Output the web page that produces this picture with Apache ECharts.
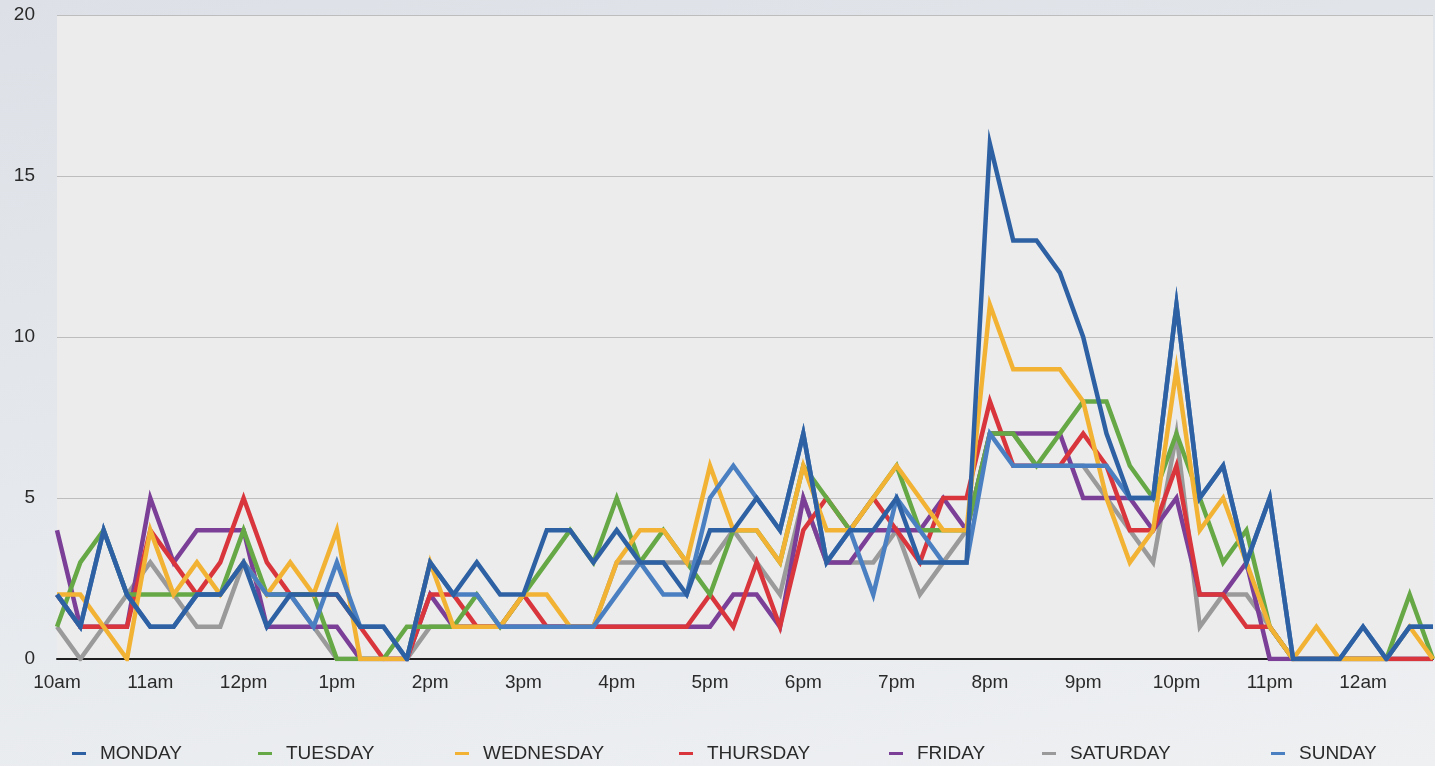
<!DOCTYPE html>
<html>
<head>
<meta charset="utf-8">
<script src="https://cdn.jsdelivr.net/npm/echarts@6/dist/echarts.min.js"></script>
<style>
  html, body { margin: 0; padding: 0; }
  body { width: 1435px; height: 766px; background: linear-gradient(170deg, #dde1e7 0%, #e6e9ed 55%, #eef0f2 100%); }
  #chart { width: 1435px; height: 766px; }
</style>
</head>
<body>
<div id="chart"></div>
<script>
// Time slots (15-minute steps, 10am .. 12:45am)
const times = [
  '10am','10:15am','10:30am','10:45am','11am','11:15am','11:30am','11:45am',
  '12pm','12:15pm','12:30pm','12:45pm','1pm','1:15pm','1:30pm','1:45pm',
  '2pm','2:15pm','2:30pm','2:45pm','3pm','3:15pm','3:30pm','3:45pm',
  '4pm','4:15pm','4:30pm','4:45pm','5pm','5:15pm','5:30pm','5:45pm',
  '6pm','6:15pm','6:30pm','6:45pm','7pm','7:15pm','7:30pm','7:45pm',
  '8pm','8:15pm','8:30pm','8:45pm','9pm','9:15pm','9:30pm','9:45pm',
  '10pm','10:15pm','10:30pm','10:45pm','11pm','11:15pm','11:30pm','11:45pm',
  '12am','12:15am','12:30am','12:45am'
];
const hourLabels = ['10am','11am','12pm','1pm','2pm','3pm','4pm','5pm','6pm','7pm','8pm','9pm','10pm','11pm','12am'];
const yTicks = [0, 5, 10, 15, 20];

const dayNames = ['MONDAY','TUESDAY','WEDNESDAY','THURSDAY','FRIDAY','SATURDAY','SUNDAY'];

const monday    = [2,1,4,2,1,1,2,2,3,1, 2,2,2,1,1,0,3,2,3,2, 2,4,4,3,4,3,3,2,4,4, 5,4,7,3,4,4,5,3,3,3, 16,13,13,12,10,7,5,5,11,5, 6,3,5,0,0,0,1,0,1,1];
const tuesday   = [1,3,4,2,2,2,2,2,4,2, 2,2,0,0,0,1,1,1,2,1, 2,3,4,3,5,3,4,3,2,4, 4,3,6,5,4,5,6,4,4,4, 7,7,6,7,8,8,6,5,7,5, 3,4,1,0,0,0,0,0,2,0];
const wednesday = [2,2,1,0,4,2,3,2,3,2, 3,2,4,0,0,0,3,1,1,1, 2,2,1,1,3,4,4,3,6,4, 4,3,6,4,4,5,6,5,4,4, 11,9,9,9,8,5,3,4,9,4, 5,3,1,0,1,0,0,0,1,0];
const thursday  = [2,1,1,1,4,3,2,3,5,3, 2,2,2,1,0,0,2,2,1,1, 2,1,1,1,1,1,1,1,2,1, 3,1,4,5,4,5,4,3,5,5, 8,6,6,6,7,6,4,4,6,2, 2,1,1,0,0,0,0,0,0,0];
const friday    = [4,1,1,1,5,3,4,4,4,1, 1,1,1,0,0,0,2,1,1,1, 1,1,1,1,1,1,1,1,1,2, 2,1,5,3,3,4,4,4,5,4, 7,7,7,7,5,5,5,4,5,2, 2,3,0,0,0,0,0,0,0,0];
const saturday  = [1,0,1,2,3,2,1,1,3,2, 2,1,0,0,0,0,1,1,1,1, 1,1,1,1,3,3,3,3,3,4, 3,2,5,3,3,3,4,2,3,4, 7,7,6,6,6,5,4,3,7,1, 2,2,1,0,0,0,0,0,0,0];
const sunday    = [2,1,4,2,1,1,2,2,3,2, 2,1,3,1,1,0,3,2,2,1, 1,1,1,1,2,3,2,2,5,6, 5,4,7,3,4,2,5,4,3,3, 7,6,6,6,6,6,5,5,11,5, 6,3,5,0,0,0,1,0,1,1];

const seriesData = [monday, tuesday, wednesday, thursday, friday, saturday, sunday];
const colors = ['#2d61a3', '#66a845', '#f2b233', '#d8363c', '#7b3f98', '#9a9a9a', '#4a7fc1'];
const zOrder = [9, 5, 6, 4, 3, 2, 7];
const legendLeft = [72, 258, 455, 679, 889, 1042, 1271];

const FONT = '"Liberation Sans", Arial, Helvetica, sans-serif';
const chart = echarts.init(document.getElementById('chart'), null, { renderer: 'canvas' });

const legends = dayNames.map((name, i) => ({
  data: [name],
  left: legendLeft[i],
  top: 744,
  padding: 0,
  icon: 'path://M0,0H14V3H0Z M23,1.49H23.01V1.51H23Z',
  itemWidth: 23,
  itemHeight: 3,
  itemGap: 0,
  selectedMode: false,
  textStyle: { color: '#2a2a2a', fontSize: 19, fontFamily: FONT }
}));

chart.setOption({
  backgroundColor: 'transparent',
  animation: false,
  legend: legends,
  grid: {
    left: 57, right: 2, top: 15, bottom: 107,
    show: true, backgroundColor: '#ececec', borderWidth: 0,
    containLabel: false
  },
  xAxis: {
    type: 'category',
    data: times,
    boundaryGap: false,
    axisLine: { show: true, lineStyle: { color: '#1e1e1e', width: 2 } },
    axisTick: { show: false },
    splitLine: { show: false },
    axisLabel: {
      interval: 3,
      margin: 14,
      color: '#2a2a2a',
      fontSize: 19,
      fontFamily: FONT,
      formatter: (v, idx) => hourLabels[idx / 4] !== undefined ? hourLabels[idx / 4] : ''
    }
  },
  yAxis: {
    type: 'value',
    min: yTicks[0],
    max: yTicks[yTicks.length - 1],
    interval: yTicks[1] - yTicks[0],
    axisLine: { show: false },
    axisTick: { show: false },
    splitLine: { show: true, lineStyle: { color: '#bdbdbd', width: 1 } },
    axisLabel: {
      margin: 22,
      color: '#2a2a2a',
      fontSize: 19,
      fontFamily: FONT
    }
  },
  series: dayNames.map((name, i) => ({
    name: name,
    type: 'line',
    data: seriesData[i],
    color: colors[i],
    z: zOrder[i],
    showSymbol: false,
    symbol: 'none',
    lineStyle: { width: 4.5, color: colors[i], join: 'miter' },
    emphasis: { disabled: true }
  }))
});
</script>
</body>
</html>
